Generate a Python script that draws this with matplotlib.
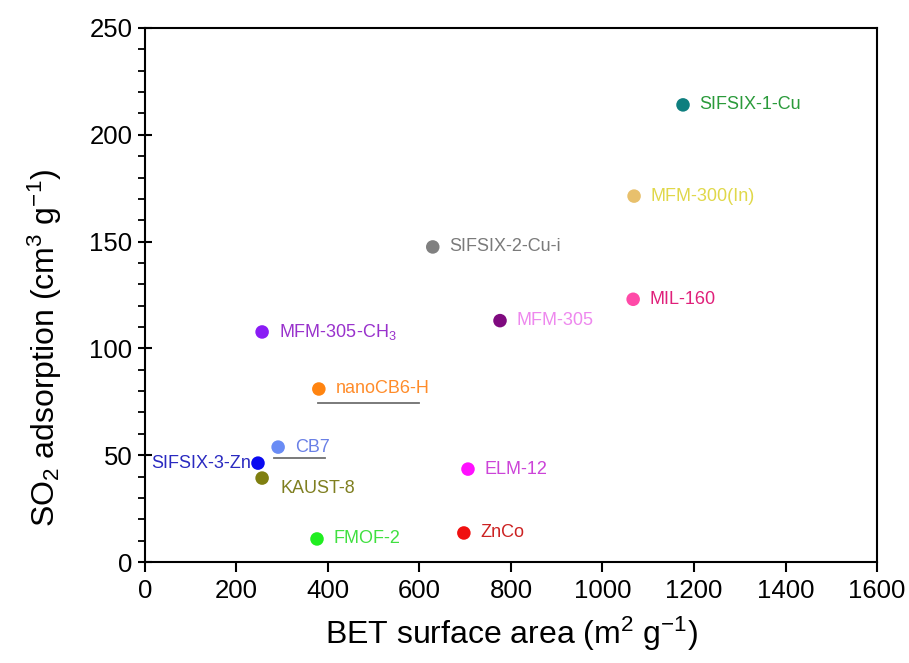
import matplotlib.pyplot as plt
from matplotlib.ticker import MultipleLocator

plt.rcParams['font.family'] = ['Liberation Sans', 'DejaVu Sans']
plt.rcParams['mathtext.fontset'] = 'custom'
plt.rcParams['mathtext.rm'] = 'Liberation Sans'
plt.rcParams['mathtext.it'] = 'Liberation Sans:italic'

# BET surface area (m2/g) vs SO2 uptake (cm3/g)
names = ['SIFSIX-1-Cu', 'MFM-300(In)', 'SIFSIX-2-Cu-i', 'MIL-160', 'MFM-305',
         'MFM-305-CH$_3$', 'nanoCB6-H', 'CB7', 'SIFSIX-3-Zn', 'KAUST-8',
         'ELM-12', 'FMOF-2', 'ZnCo']
bet = [1176, 1069, 629, 1067, 776, 256, 380, 291, 247, 256, 706, 376, 697]
so2 = [214, 171.3, 147.5, 123, 113, 107.7, 81, 53.8, 46.3, 39.3, 43.5, 10.8, 13.6]

marker_colors = ['#0e7f7f', '#e8c06c', '#808080', '#ff4aa8', '#7f0a7f',
                 '#8a1cf5', '#ff8410', '#6a8cf5', '#0a0af0', '#7f7f10',
                 '#ff10ff', '#20ee20', '#f01010']
text_colors = ['#2a9a3a', '#e0d84a', '#7a7a7a', '#e0207a', '#ee88ee',
               '#9932cc', '#ff8c2a', '#6a80e6', '#2a2ac0', '#7f7f20',
               '#cc44d8', '#40e040', '#cc2222']

# label offsets in points (dx, dy) and alignment
offsets = [(12, 0)] * 13
offsets[8] = (-5, 0)     # SIFSIX-3-Zn sits left of its point
offsets[9] = (13, -7.5)  # KAUST-8 below-right
has = ['left'] * 13
has[8] = 'right'

# reference underlines under nanoCB6-H and CB7
line_x = [[378, 599], [282, 393]]
line_y = [[74.4, 74.4], [48.7, 48.7]]

fig = plt.figure(figsize=(9.09, 6.63), dpi=100)
ax = fig.add_axes([0.1595, 0.1523, 0.8053, 0.8055])

ax.scatter(bet, so2, s=95, c=marker_colors, edgecolors='none', zorder=3)

for n, x, y, tc, off, ha in zip(names, bet, so2, text_colors, offsets, has):
    ax.annotate(n, (x, y), xytext=off, textcoords='offset points',
                ha=ha, va='center', color=tc, fontsize=13)

for lx, ly in zip(line_x, line_y):
    ax.plot(lx, ly, color='#707070', lw=1.3, zorder=2)

ax.set_xlim(0, 1600)
ax.set_ylim(0, 250)
ax.xaxis.set_major_locator(MultipleLocator(200))
ax.yaxis.set_major_locator(MultipleLocator(50))
ax.yaxis.set_minor_locator(MultipleLocator(10))

for s in ax.spines.values():
    s.set_linewidth(1.5)

ax.tick_params(axis='x', which='major', direction='out', length=7, width=1.5,
               labelsize=18.5, pad=5)
ax.tick_params(axis='y', which='major', direction='inout', length=10, width=1.5,
               labelsize=18.5, pad=4)
ax.tick_params(axis='y', which='minor', direction='out', length=5, width=1.3)

ax.set_xlabel('BET surface area (m$^2$ g$^{-1}$)', fontsize=23, labelpad=9)
ax.set_ylabel('SO$_2$ adsorption (cm$^3$ g$^{-1}$)', fontsize=23)
ax.yaxis.set_label_coords(-0.111, 0.40)

fig.savefig('out.png', dpi=100)
